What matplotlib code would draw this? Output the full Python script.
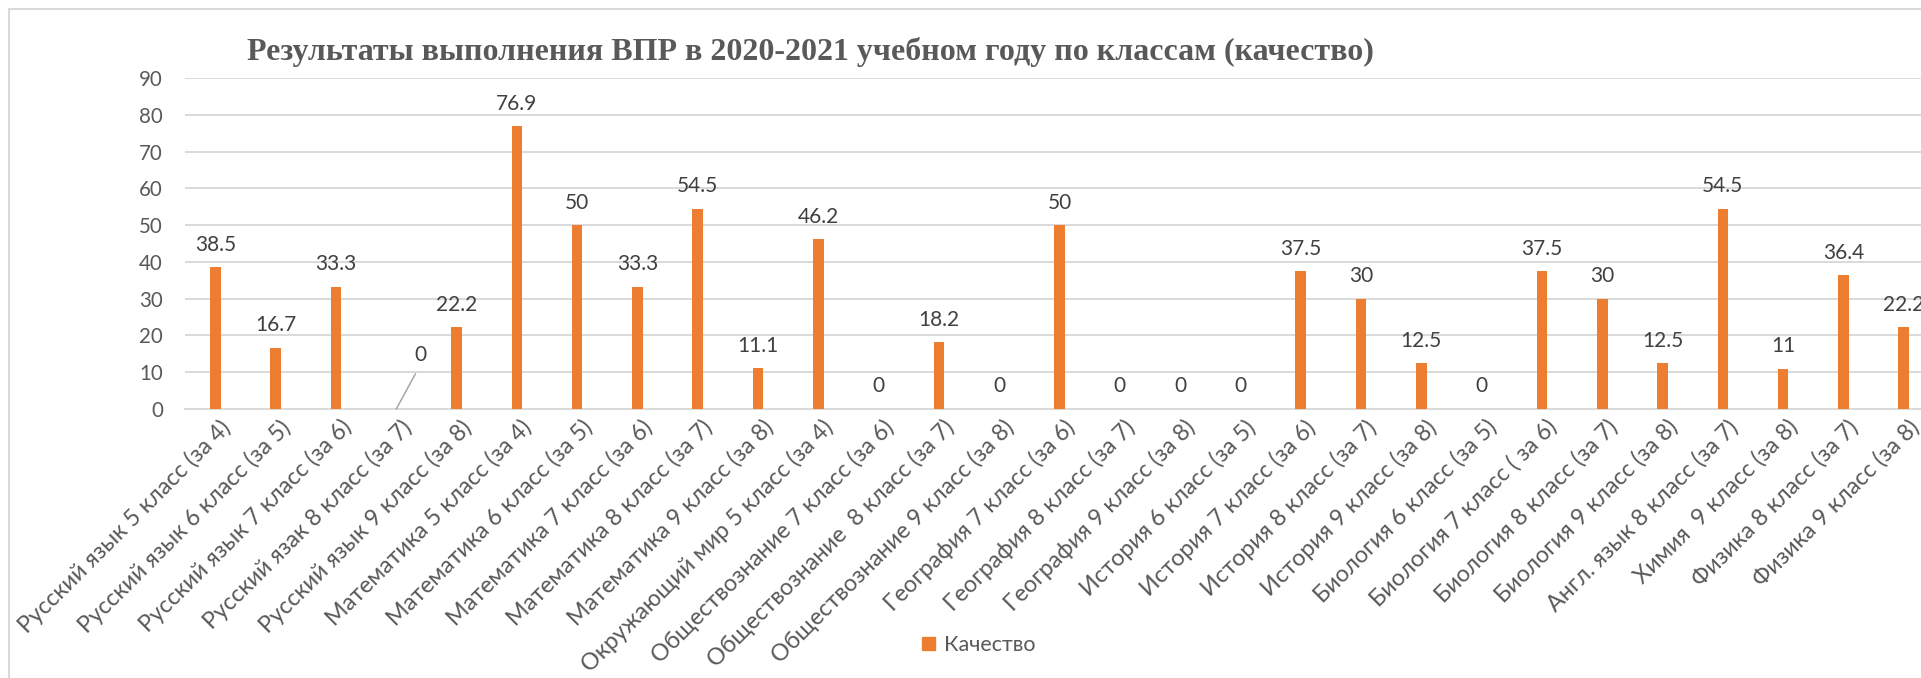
import matplotlib
matplotlib.use("Agg")
import matplotlib.pyplot as plt
from matplotlib.patches import Rectangle, Patch
from matplotlib.transforms import ScaledTranslation

categories = [
    "Русский язык 5 класс (за 4)", "Русский язык 6 класс (за 5)",
    "Русский язык 7 класс (за 6)", "Русский язак 8 класс (за 7)",
    "Русский язык 9 класс (за 8)", "Математика 5 класс (за 4)",
    "Математика 6 класс (за 5)", "Математика 7 класс (за 6)",
    "Математика 8 класс (за 7)", "Математика 9 класс (за 8)",
    "Окружающий мир 5 класс (за 4)", "Обществознание 7 класс (за 6)",
    "Обществознание  8 класс (за 7)", "Обществознание 9 класс (за 8)",
    "География 7 класс (за 6)", "География 8 класс (за 7)",
    "География 9 класс (за 8)", "История 6 класс (за 5)",
    "История 7 класс (за 6)", "История 8 класс (за 7)",
    "История 9 класс (за 8)", "Биология 6 класс (за 5)",
    "Биология 7 класс ( за 6)", "Биология 8 класс (за 7)",
    "Биология 9 класс (за 8)", "Англ. язык 8 класс (за 7)",
    "Химия  9 класс (за 8)", "Физика 8 класс (за 7)",
    "Физика 9 класс (за 8)",
]
quality = [38.5, 16.7, 33.3, 0, 22.2, 76.9, 50, 33.3, 54.5, 11.1,
           46.2, 0, 18.2, 0, 50, 0, 0, 0, 37.5, 30,
           12.5, 0, 37.5, 30, 12.5, 54.5, 11, 36.4, 22.2]
labels = ["38.5", "16.7", "33.3", "0", "22.2", "76.9", "50", "33.3", "54.5", "11.1",
          "46.2", "0", "18.2", "0", "50", "0", "0", "0", "37.5", "30",
          "12.5", "0", "37.5", "30", "12.5", "54.5", "11", "36.4", "22.2"]
series_name = "Качество"
title = "Результаты выполнения ВПР в 2020-2021 учебном году по классам (качество)"

W, H = 1921, 678
bar_color = "#ED7D31"
grid_color = "#D9D9D9"
text_color = "#595959"

plt.rcParams['font.family'] = ['Lato', 'DejaVu Sans']

fig = plt.figure(figsize=(W / 100, H / 100), dpi=100)
fig.patch.set_facecolor("white")

# chart border (cut off on the right and bottom like the original)
fig.patches.append(Rectangle((9 / W, -0.2), 2, 1 - 9 / H + 0.2, transform=fig.transFigure,
                             fill=False, ec=grid_color, lw=1.5))

step = 60.3
left = 185.2
ax = fig.add_axes([left / W, 1 - 409 / H, len(categories) * step / W, (409 - 78) / H])
x = list(range(len(categories)))
ax.bar(x, quality, width=0.177, color=bar_color, zorder=3)
ax.set_xlim(-0.5, len(categories) - 0.5)
ax.set_ylim(0, 90)
ax.set_yticks(range(0, 91, 10))
ax.yaxis.grid(True, color=grid_color, lw=1.4, zorder=0)
ax.set_axisbelow(True)
for s in ["top", "right", "left"]:
    ax.spines[s].set_visible(False)
ax.spines["bottom"].set_color(grid_color)
ax.spines["bottom"].set_linewidth(1.4)
ax.tick_params(axis="y", length=0, pad=16, labelsize=14.8, labelcolor=text_color)
ax.tick_params(axis="x", length=0, pad=5, labelsize=16.8, labelcolor=text_color)
ax.set_xticks(x)
ax.set_xticklabels(categories, rotation=45, ha="right", rotation_mode="anchor")
shift = ScaledTranslation(4 / 100, 0, fig.dpi_scale_trans)
for t in ax.get_xticklabels():
    t.set_transform(t.get_transform() + shift)

for i, (v, lab) in enumerate(zip(quality, labels)):
    if i == 3:
        ax.annotate(lab, xy=(i, v), xytext=(17.3, 38.9), textcoords="offset points",
                    ha="center", va="center", fontsize=15, color="#404040",
                    arrowprops=dict(arrowstyle="-", color="#A6A6A6", lw=1.1,
                                    relpos=(0.5, 0), shrinkA=5, shrinkB=0))
    else:
        ax.annotate(lab, xy=(i, v), xytext=(0, 9), textcoords="offset points",
                    ha="center", va="bottom", fontsize=15, color="#404040")

fig.text(810 / W, 1 - 52 / H, title, ha="center", va="center",
         family="Liberation Serif", fontweight="bold", fontsize=23, color=text_color)

fig.legend(handles=[Patch(color=bar_color, label=series_name)], loc="center",
           bbox_to_anchor=(979 / W, 1 - 645 / H), frameon=False, fontsize=15.5,
           handlelength=0.6, handleheight=0.6, handletextpad=0.4, labelcolor=text_color)

fig.savefig("out.png", dpi=100)
